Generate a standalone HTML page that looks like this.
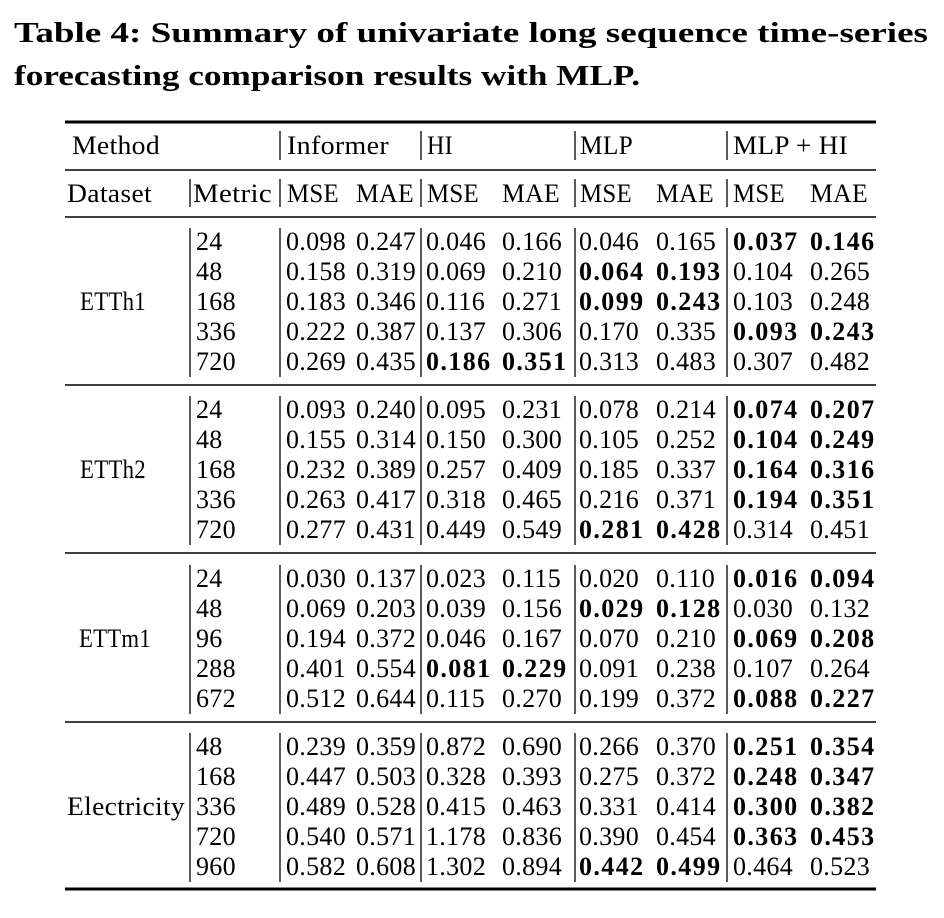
<!DOCTYPE html>
<html><head><meta charset="utf-8"><style>
html,body{margin:0;padding:0;background:#fff;}
svg{display:block;}
text{font-family:"Liberation Serif",serif;fill:#000;}
.t{font-size:28px;font-weight:bold;}
.c{font-size:26px;letter-spacing:0.3px;}
.b{font-weight:bold;letter-spacing:1.4px;}
</style></head><body>
<svg width="944" height="918" viewBox="0 0 944 918" xmlns="http://www.w3.org/2000/svg">
<text class="t" x="14" y="42" textLength="914" lengthAdjust="spacingAndGlyphs">Table 4: Summary of univariate long sequence time-series</text>
<text class="t" x="14" y="85" textLength="626" lengthAdjust="spacingAndGlyphs">forecasting comparison results with MLP.</text>
<g stroke="#000">
<line x1="65" x2="876" y1="122" y2="122" stroke-width="3"/>
<line x1="65" x2="876" y1="170" y2="170" stroke-width="1.5"/>
<line x1="65" x2="876" y1="217" y2="217" stroke-width="1.5"/>
<line x1="65" x2="876" y1="385" y2="385" stroke-width="1.5"/>
<line x1="65" x2="876" y1="553" y2="553" stroke-width="1.5"/>
<line x1="65" x2="876" y1="722" y2="722" stroke-width="1.5"/>
<line x1="65" x2="876" y1="889" y2="889" stroke-width="3"/>
<g stroke-width="1.3">
<line x1="280" x2="280" y1="131" y2="160"/><line x1="421" x2="421" y1="131" y2="160"/><line x1="575" x2="575" y1="131" y2="160"/><line x1="727" x2="727" y1="131" y2="160"/>
<line x1="190" x2="190" y1="179" y2="207"/><line x1="280" x2="280" y1="179" y2="207"/><line x1="421" x2="421" y1="179" y2="207"/><line x1="575" x2="575" y1="179" y2="207"/><line x1="727" x2="727" y1="179" y2="207"/>
<line x1="190" x2="190" y1="228" y2="377"/><line x1="280" x2="280" y1="228" y2="377"/><line x1="421" x2="421" y1="228" y2="377"/><line x1="575" x2="575" y1="228" y2="377"/><line x1="727" x2="727" y1="228" y2="377"/>
<line x1="190" x2="190" y1="396" y2="545"/><line x1="280" x2="280" y1="396" y2="545"/><line x1="421" x2="421" y1="396" y2="545"/><line x1="575" x2="575" y1="396" y2="545"/><line x1="727" x2="727" y1="396" y2="545"/>
<line x1="190" x2="190" y1="565" y2="714"/><line x1="280" x2="280" y1="565" y2="714"/><line x1="421" x2="421" y1="565" y2="714"/><line x1="575" x2="575" y1="565" y2="714"/><line x1="727" x2="727" y1="565" y2="714"/>
<line x1="190" x2="190" y1="733" y2="882"/><line x1="280" x2="280" y1="733" y2="882"/><line x1="421" x2="421" y1="733" y2="882"/><line x1="575" x2="575" y1="733" y2="882"/><line x1="727" x2="727" y1="733" y2="882"/>
</g></g>
<g class="c">
<text x="72" y="154" textLength="88" lengthAdjust="spacingAndGlyphs">Method</text><text x="287" y="154" textLength="102" lengthAdjust="spacingAndGlyphs">Informer</text><text x="427" y="154" textLength="26" lengthAdjust="spacingAndGlyphs">HI</text><text x="580" y="154" textLength="53" lengthAdjust="spacingAndGlyphs">MLP</text><text x="733" y="154" textLength="115" lengthAdjust="spacingAndGlyphs">MLP + HI</text>
<text x="67" y="202" textLength="85" lengthAdjust="spacingAndGlyphs">Dataset</text><text x="193" y="202" textLength="79" lengthAdjust="spacingAndGlyphs">Metric</text>
<text x="287" y="202" textLength="52" lengthAdjust="spacingAndGlyphs">MSE</text><text x="356" y="202" textLength="58" lengthAdjust="spacingAndGlyphs">MAE</text><text x="427" y="202" textLength="52" lengthAdjust="spacingAndGlyphs">MSE</text><text x="502" y="202" textLength="58" lengthAdjust="spacingAndGlyphs">MAE</text><text x="580" y="202" textLength="52" lengthAdjust="spacingAndGlyphs">MSE</text><text x="656" y="202" textLength="58" lengthAdjust="spacingAndGlyphs">MAE</text><text x="733" y="202" textLength="52" lengthAdjust="spacingAndGlyphs">MSE</text><text x="810" y="202" textLength="58" lengthAdjust="spacingAndGlyphs">MAE</text>

<text x="80" y="310" textLength="66" lengthAdjust="spacingAndGlyphs">ETTh1</text>
<text x="196" y="250">24</text><text x="286" y="250">0.098</text><text x="356" y="250">0.247</text><text x="426" y="250">0.046</text><text x="502" y="250">0.166</text><text x="579" y="250">0.046</text><text x="656" y="250">0.165</text><text class="b" x="733" y="250">0.037</text><text class="b" x="810" y="250">0.146</text>
<text x="196" y="280">48</text><text x="286" y="280">0.158</text><text x="356" y="280">0.319</text><text x="426" y="280">0.069</text><text x="502" y="280">0.210</text><text class="b" x="579" y="280">0.064</text><text class="b" x="656" y="280">0.193</text><text x="733" y="280">0.104</text><text x="810" y="280">0.265</text>
<text x="196" y="310">168</text><text x="286" y="310">0.183</text><text x="356" y="310">0.346</text><text x="426" y="310">0.116</text><text x="502" y="310">0.271</text><text class="b" x="579" y="310">0.099</text><text class="b" x="656" y="310">0.243</text><text x="733" y="310">0.103</text><text x="810" y="310">0.248</text>
<text x="196" y="340">336</text><text x="286" y="340">0.222</text><text x="356" y="340">0.387</text><text x="426" y="340">0.137</text><text x="502" y="340">0.306</text><text x="579" y="340">0.170</text><text x="656" y="340">0.335</text><text class="b" x="733" y="340">0.093</text><text class="b" x="810" y="340">0.243</text>
<text x="196" y="370">720</text><text x="286" y="370">0.269</text><text x="356" y="370">0.435</text><text class="b" x="426" y="370">0.186</text><text class="b" x="502" y="370">0.351</text><text x="579" y="370">0.313</text><text x="656" y="370">0.483</text><text x="733" y="370">0.307</text><text x="810" y="370">0.482</text>

<text x="80" y="478" textLength="66" lengthAdjust="spacingAndGlyphs">ETTh2</text>
<text x="196" y="418">24</text><text x="286" y="418">0.093</text><text x="356" y="418">0.240</text><text x="426" y="418">0.095</text><text x="502" y="418">0.231</text><text x="579" y="418">0.078</text><text x="656" y="418">0.214</text><text class="b" x="733" y="418">0.074</text><text class="b" x="810" y="418">0.207</text>
<text x="196" y="448">48</text><text x="286" y="448">0.155</text><text x="356" y="448">0.314</text><text x="426" y="448">0.150</text><text x="502" y="448">0.300</text><text x="579" y="448">0.105</text><text x="656" y="448">0.252</text><text class="b" x="733" y="448">0.104</text><text class="b" x="810" y="448">0.249</text>
<text x="196" y="478">168</text><text x="286" y="478">0.232</text><text x="356" y="478">0.389</text><text x="426" y="478">0.257</text><text x="502" y="478">0.409</text><text x="579" y="478">0.185</text><text x="656" y="478">0.337</text><text class="b" x="733" y="478">0.164</text><text class="b" x="810" y="478">0.316</text>
<text x="196" y="508">336</text><text x="286" y="508">0.263</text><text x="356" y="508">0.417</text><text x="426" y="508">0.318</text><text x="502" y="508">0.465</text><text x="579" y="508">0.216</text><text x="656" y="508">0.371</text><text class="b" x="733" y="508">0.194</text><text class="b" x="810" y="508">0.351</text>
<text x="196" y="538">720</text><text x="286" y="538">0.277</text><text x="356" y="538">0.431</text><text x="426" y="538">0.449</text><text x="502" y="538">0.549</text><text class="b" x="579" y="538">0.281</text><text class="b" x="656" y="538">0.428</text><text x="733" y="538">0.314</text><text x="810" y="538">0.451</text>

<text x="79" y="647" textLength="72" lengthAdjust="spacingAndGlyphs">ETTm1</text>
<text x="196" y="587">24</text><text x="286" y="587">0.030</text><text x="356" y="587">0.137</text><text x="426" y="587">0.023</text><text x="502" y="587">0.115</text><text x="579" y="587">0.020</text><text x="656" y="587">0.110</text><text class="b" x="733" y="587">0.016</text><text class="b" x="810" y="587">0.094</text>
<text x="196" y="617">48</text><text x="286" y="617">0.069</text><text x="356" y="617">0.203</text><text x="426" y="617">0.039</text><text x="502" y="617">0.156</text><text class="b" x="579" y="617">0.029</text><text class="b" x="656" y="617">0.128</text><text x="733" y="617">0.030</text><text x="810" y="617">0.132</text>
<text x="196" y="647">96</text><text x="286" y="647">0.194</text><text x="356" y="647">0.372</text><text x="426" y="647">0.046</text><text x="502" y="647">0.167</text><text x="579" y="647">0.070</text><text x="656" y="647">0.210</text><text class="b" x="733" y="647">0.069</text><text class="b" x="810" y="647">0.208</text>
<text x="196" y="677">288</text><text x="286" y="677">0.401</text><text x="356" y="677">0.554</text><text class="b" x="426" y="677">0.081</text><text class="b" x="502" y="677">0.229</text><text x="579" y="677">0.091</text><text x="656" y="677">0.238</text><text x="733" y="677">0.107</text><text x="810" y="677">0.264</text>
<text x="196" y="707">672</text><text x="286" y="707">0.512</text><text x="356" y="707">0.644</text><text x="426" y="707">0.115</text><text x="502" y="707">0.270</text><text x="579" y="707">0.199</text><text x="656" y="707">0.372</text><text class="b" x="733" y="707">0.088</text><text class="b" x="810" y="707">0.227</text>

<text x="67" y="815" textLength="118" lengthAdjust="spacingAndGlyphs">Electricity</text>
<text x="196" y="755">48</text><text x="286" y="755">0.239</text><text x="356" y="755">0.359</text><text x="426" y="755">0.872</text><text x="502" y="755">0.690</text><text x="579" y="755">0.266</text><text x="656" y="755">0.370</text><text class="b" x="733" y="755">0.251</text><text class="b" x="810" y="755">0.354</text>
<text x="196" y="785">168</text><text x="286" y="785">0.447</text><text x="356" y="785">0.503</text><text x="426" y="785">0.328</text><text x="502" y="785">0.393</text><text x="579" y="785">0.275</text><text x="656" y="785">0.372</text><text class="b" x="733" y="785">0.248</text><text class="b" x="810" y="785">0.347</text>
<text x="196" y="815">336</text><text x="286" y="815">0.489</text><text x="356" y="815">0.528</text><text x="426" y="815">0.415</text><text x="502" y="815">0.463</text><text x="579" y="815">0.331</text><text x="656" y="815">0.414</text><text class="b" x="733" y="815">0.300</text><text class="b" x="810" y="815">0.382</text>
<text x="196" y="845">720</text><text x="286" y="845">0.540</text><text x="356" y="845">0.571</text><text x="426" y="845">1.178</text><text x="502" y="845">0.836</text><text x="579" y="845">0.390</text><text x="656" y="845">0.454</text><text class="b" x="733" y="845">0.363</text><text class="b" x="810" y="845">0.453</text>
<text x="196" y="875">960</text><text x="286" y="875">0.582</text><text x="356" y="875">0.608</text><text x="426" y="875">1.302</text><text x="502" y="875">0.894</text><text class="b" x="579" y="875">0.442</text><text class="b" x="656" y="875">0.499</text><text x="733" y="875">0.464</text><text x="810" y="875">0.523</text>
</g>
</svg>
</body></html>
